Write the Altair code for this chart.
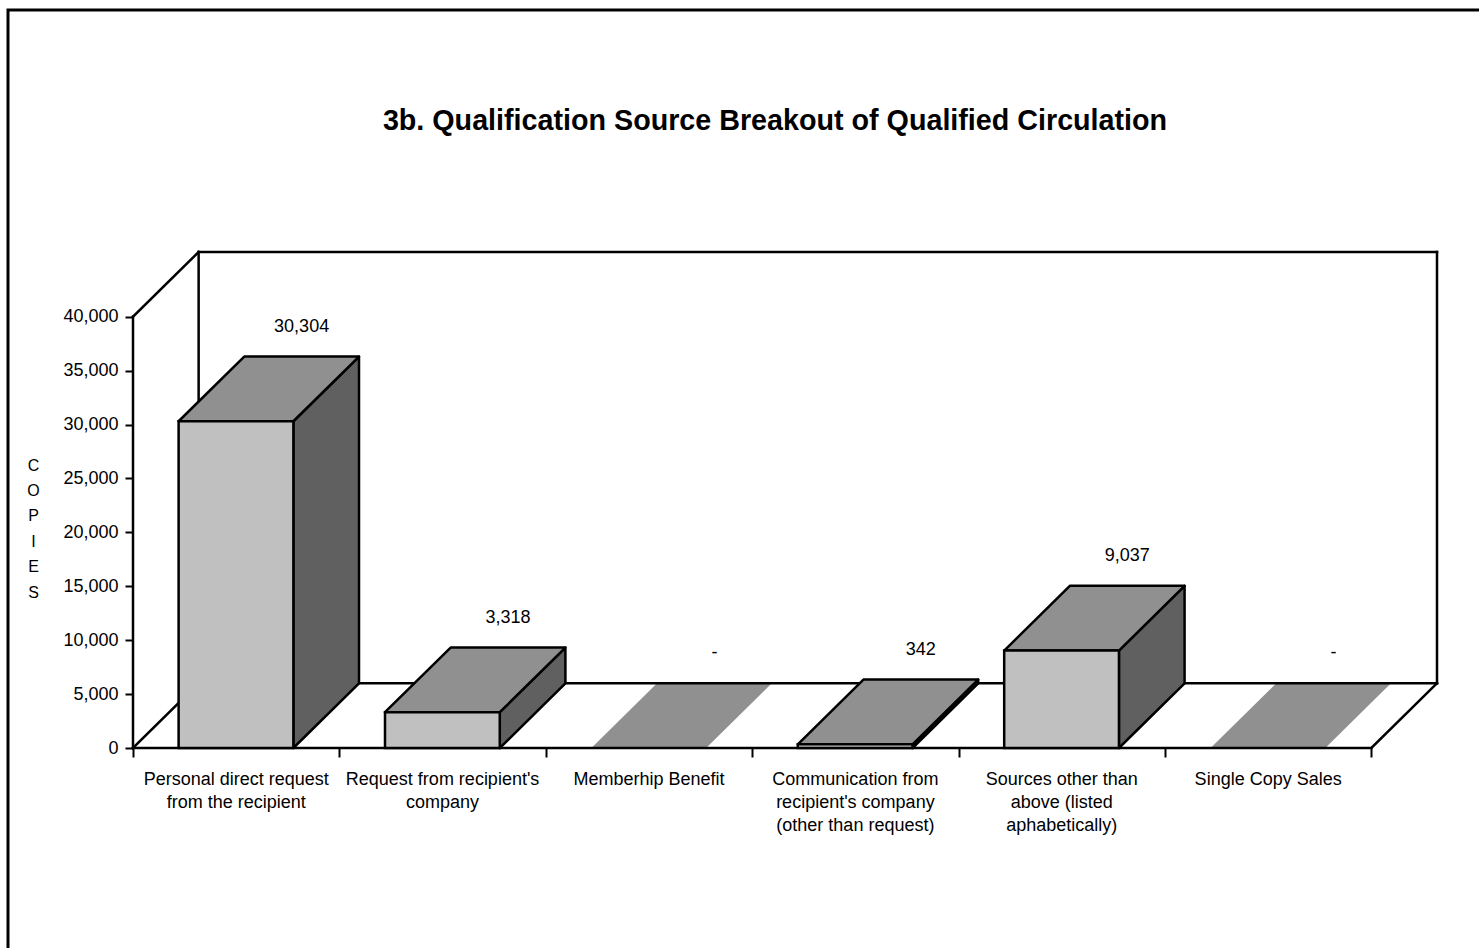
import altair as alt
import pandas as pd

# ---------------- data ----------------
categories = [
    "Personal direct request\nfrom the recipient",
    "Request from recipient's\ncompany",
    "Memberhip Benefit",
    "Communication from\nrecipient's company\n(other than request)",
    "Sources other than\nabove (listed\naphabetically)",
    "Single Copy Sales",
]
values = [30304, 3318, 0, 342, 9037, 0]
value_labels = ["30,304", "3,318", "-", "342", "9,037", "-"]
y_tick_values = [0, 5000, 10000, 15000, 20000, 25000, 30000, 35000, 40000]
chart_title = "3b. Qualification Source Breakout of Qualified Circulation"
y_title = ["C", "O", "P", "I", "E", "S"]

# ---------------- geometry (style) ----------------
N = len(categories)
Y_TOP = 40000          # top of the front value axis
DX = 0.318             # depth offset in category units
DY = 6000              # depth offset in value units
BAR_L, BAR_R = 0.221, 0.777
PLOT_W, PLOT_H = 1304, 496
PAD_L, PAD_T = 133, 252
FONT = "Liberation Sans"
LW = 2.5

# ---------------- tables ----------------
walls = [
    ((0, 0), (0, Y_TOP)),
    ((0, 0), (N, 0)),
    ((0, 0), (DX, DY)),
    ((0, Y_TOP), (DX, Y_TOP + DY)),
    ((DX, DY), (DX, Y_TOP + DY)),
    ((DX, Y_TOP + DY), (N + DX, Y_TOP + DY)),
    ((N + DX, DY), (N + DX, Y_TOP + DY)),
    ((DX, DY), (N + DX, DY)),
    ((N, 0), (N + DX, DY)),
]
wall_rows = []
for k, (p, q) in enumerate(walls):
    wall_rows.append({"seg": k, "o": 0, "x": p[0], "y": p[1]})
    wall_rows.append({"seg": k, "o": 1, "x": q[0], "y": q[1]})
wall_df = pd.DataFrame(wall_rows)

front_rows, side_rows, top_rows, lab_rows, cat_rows = [], [], [], [], []
for i, (v, lab, cat) in enumerate(zip(values, value_labels, categories)):
    x0, x1 = i + BAR_L, i + BAR_R
    front_rows.append({"bar": i, "x0": x0, "x1": x1, "y0": 0, "y1": v, "v": v})
    side_rows.append({"bar": i, "x": x1, "lo": 0, "hi": v, "v": v})
    side_rows.append({"bar": i, "x": x1 + DX, "lo": DY, "hi": v + DY, "v": v})
    top_rows.append({"bar": i, "y": v, "l": x0, "r": x1, "v": v})
    top_rows.append({"bar": i, "y": v + DY, "l": x0 + DX, "r": x1 + DX, "v": v})
    lab_rows.append({"x": (x0 + x1) / 2 + DX, "y": v + DY, "t": lab})
    cat_rows.append({"x": i + 0.5, "y": 0, "t": cat})

front_df = pd.DataFrame([r for r in front_rows if r["v"] > 0])
side_df = pd.DataFrame([r for r in side_rows if r["v"] > 0])
top_all = pd.DataFrame(top_rows)
top_zero = top_all[top_all["v"] == 0]
top_pos = top_all[top_all["v"] > 0]
lab_df = pd.DataFrame(lab_rows)
cat_df = pd.DataFrame(cat_rows)

xs = alt.Scale(domain=[0, N + DX], nice=False, zero=False)
ys = alt.Scale(domain=[0, Y_TOP + DY], nice=False, zero=False)

AX_X = alt.Axis(
    values=list(range(N + 1)), labels=False, title="", grid=False, domain=False,
    ticks=True, tickSize=9, tickWidth=2, tickColor="black")
AX_Y = alt.Axis(
    values=y_tick_values, labelExpr="format(datum.value, ',.0f')", grid=False, domain=False,
    tickSize=8, tickWidth=2, tickColor="black",
    labelFont=FONT, labelFontSize=18, labelColor="black", labelPadding=7,
    title=y_title, titleAngle=0, titleFont=FONT, titleFontSize=16,
    titleFontWeight="normal", titleColor="black", titleLineHeight=25.4,
    titleAlign="center", titleBaseline="middle", titleX=33 - PAD_L, titleY=213)


def X(field):
    return alt.X(field, type="quantitative", scale=xs, axis=AX_X)


def Y(field):
    return alt.Y(field, type="quantitative", scale=ys, axis=AX_Y)


# ---------------- layers ----------------
frame = alt.Chart(pd.DataFrame({"a": [0]})).mark_rect(
    filled=False, stroke="black", strokeWidth=3
).encode(
    x=alt.value(8 - PAD_L), y=alt.value(10 - PAD_T),
    x2=alt.value(1479 - PAD_L + 20), y2=alt.value(948 - PAD_T + 20),
)

zero_top_layer = alt.Chart(top_zero).mark_area(
    orient="horizontal", fill="#909090", strokeWidth=0
).encode(
    y=Y("y"), x=alt.X("l:Q", scale=xs, axis=AX_X, stack=None), x2="r:Q", detail="bar:N",
)

wall_layer = alt.Chart(wall_df).mark_line(
    color="black", strokeWidth=LW, strokeCap="square"
).encode(
    x=X("x"), y=Y("y"), detail="seg:N", order="o:Q",
)

side_layer = alt.Chart(side_df).mark_area(
    fill="#606060", stroke="black", strokeWidth=LW, strokeJoin="round"
).encode(
    x=X("x"), y=alt.Y("lo:Q", scale=ys, axis=AX_Y, stack=None), y2="hi:Q", detail="bar:N",
)

top_layer = alt.Chart(top_pos).mark_area(
    orient="horizontal", fill="#909090", stroke="black", strokeWidth=LW, strokeJoin="round"
).encode(
    y=Y("y"), x=alt.X("l:Q", scale=xs, axis=AX_X, stack=None), x2="r:Q", detail="bar:N",
)

front_layer = alt.Chart(front_df).mark_rect(
    fill="#C0C0C0", stroke="black", strokeWidth=LW
).encode(
    x=X("x0"), x2="x1:Q", y=Y("y0"), y2="y1:Q",
)

val_layer = alt.Chart(lab_df).mark_text(
    font=FONT, fontSize=18, color="black", baseline="alphabetic", dy=-25
).encode(
    x=X("x"), y=Y("y"), text="t:N",
)

cat_layer = alt.Chart(cat_df).mark_text(
    font=FONT, fontSize=18, color="black", baseline="top", dy=23,
    lineBreak="\n", lineHeight=23, align="center"
).encode(
    x=X("x"), y=Y("y"), text="t:N",
)

title_layer = alt.Chart(pd.DataFrame({"t": [chart_title]})).mark_text(
    font=FONT, fontSize=28.7, fontWeight="bold", color="black",
    baseline="alphabetic", align="center"
).encode(
    x=alt.value(775 - PAD_L), y=alt.value(130 - PAD_T), text="t:N",
)

chart = alt.layer(
    frame, zero_top_layer, wall_layer, side_layer, top_layer, front_layer,
    val_layer, cat_layer, title_layer
).properties(
    width=PLOT_W, height=PLOT_H,
    autosize=alt.AutoSizeParams(type="none"),
    padding={"left": PAD_L, "top": PAD_T, "right": 1479 - PAD_L - PLOT_W, "bottom": 948 - PAD_T - PLOT_H},
    background="white",
).configure_view(stroke=None)

chart.save("out.html", embed_options={"renderer": "svg", "actions": False})
